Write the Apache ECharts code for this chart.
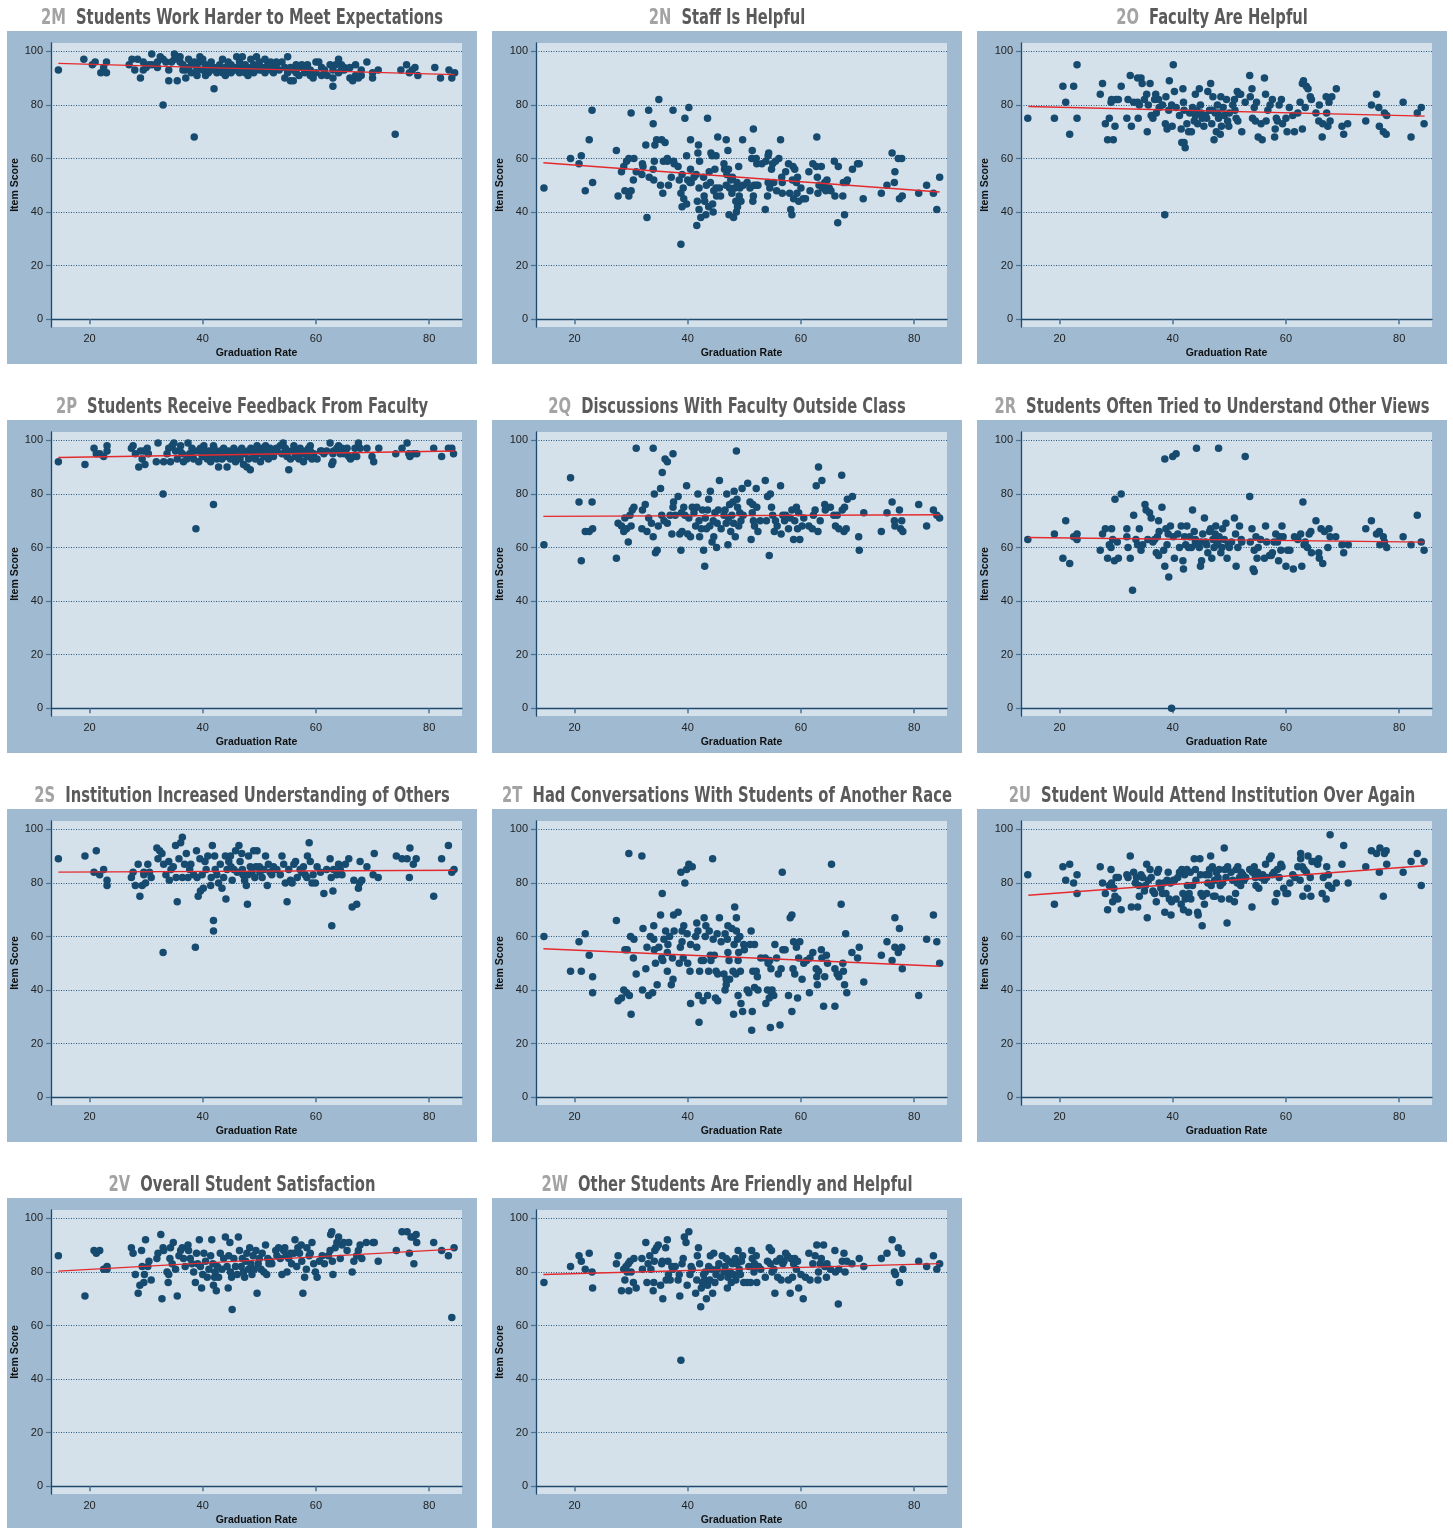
<!DOCTYPE html>
<html>
<head>
<meta charset="utf-8">
<script src="https://cdn.jsdelivr.net/npm/echarts@6/dist/echarts.min.js"></script>
<style>
  html, body { margin: 0; padding: 0; background: #fff; }
  #chart { width: 1453px; height: 1528px; }
</style>
</head>
<body>
<div id="chart"></div>
<script>
// panel labels
const panelCodes = ['2M', '2N', '2O', '2P', '2Q', '2R', '2S', '2T', '2U', '2V', '2W'];
const panelTitles = [
  'Students Work Harder to Meet Expectations',
  'Staff Is Helpful',
  'Faculty Are Helpful',
  'Students Receive Feedback From Faculty',
  'Discussions With Faculty Outside Class',
  'Students Often Tried to Understand Other Views',
  'Institution Increased Understanding of Others',
  'Had Conversations With Students of Another Race',
  'Student Would Attend Institution Over Again',
  'Overall Student Satisfaction',
  'Other Students Are Friendly and Helpful'
];
const xTicks = [20, 40, 60, 80];
const yTicks = [0, 20, 40, 60, 80, 100];

// [graduation rate, item score]
const pts2M = [[14.5,93],[19,97],[20.5,95],[21,96],[22,92],[22.5,94],[23,96],[23,92],[27,95],[27.5,97],[28,93],[28.5,97],[29,90],[29.5,93],[29.5,96],[30,94],[30.5,95],[31,99],[31,95],[32,96],[32,94],[32.5,98],[33,80],[33,97],[33.5,96],[34,93],[34,89],[34.5,96],[35,99],[35,97],[35.5,98],[35.5,89],[36,96],[36,98],[36.5,95],[37,93],[37,90],[37.5,97],[38,92],[38,95],[38.5,96],[38.5,68],[39,91],[39,94],[39.5,98],[39.5,96],[40,93],[40,97],[40.5,91],[40.5,95],[41,92],[41.5,96],[42,86],[42,94],[42.5,92],[43,95],[43,93],[43.5,97],[44,91],[44,94],[44.5,96],[45,92],[45,95],[45.5,93],[46,98],[46,94],[46.5,96],[47,93],[47,98],[47.5,95],[48,91],[48,94],[48.5,97],[49,92],[49,95],[49.5,98],[50,93],[50,96],[50.5,94],[51,97],[51,92],[51.5,95],[52,93],[52,96],[52.5,94],[53,95],[53.5,93],[54,96],[54.5,90],[54.5,94],[55,98],[55,92],[55.5,89],[56,93],[56,89],[56.5,95],[57,91],[57,94],[57.5,95],[58,92],[58.5,95],[59,91],[59,93],[59.5,90],[60,96],[60,92],[60.5,96],[61,94],[61,91],[62,91],[62.5,95],[63,87],[63,90],[63,93],[63.5,95],[64,97],[64,92],[64.5,95],[65,94],[65,93],[66,94],[66,90],[66.5,89],[67,95],[67,91],[67.5,90],[68,93],[68,91],[69,96],[70,90],[70,92],[71,93],[74,69],[75,93],[76,95],[76.5,92],[77,93],[77.5,94],[78,91],[81,94],[82,90],[83.5,93],[84,90],[84.5,92],[44.5,93],[46,93],[47.5,92],[49.5,94],[50.5,93],[48.5,93],[45.5,94],[41,94],[39,93],[36.5,93],[37.5,94],[41.5,93],[43.5,92],[46.5,92],[47,94],[49,93],[51,94],[52.5,92],[53,96],[55.5,94],[56.5,92],[58,94],[61.5,93],[64.5,93]];
const pts2N = [[14.6,49],[19.3,60],[20.8,58],[21.2,61],[21.9,48],[22.6,67],[23.1,78],[23.2,51],[27.4,63],[27.7,46],[28.3,55],[28.7,57],[28.9,48],[29.2,59],[29.6,46],[29.6,60],[30,48],[30,77],[30.4,52],[30.5,60],[30.9,55],[31.9,54],[32,58],[32.1,57],[32.6,65],[32.8,38],[33.1,78],[33.2,53],[33.9,56],[33.9,73],[34,52],[34.1,59],[34.2,65],[34.5,67],[34.9,82],[35.2,50],[35.4,67],[35.6,47],[35.7,59],[36,66],[36.4,60],[36.4,59],[36.6,50],[37.1,53],[37.4,78],[37.5,59],[37.6,58],[38.3,57],[38.5,52],[38.8,47],[38.8,28],[39,42],[39,54],[39.2,49],[39.3,45],[39.5,75],[39.8,43],[39.8,61],[40,52],[40.2,79],[40.4,51],[40.5,56],[40.5,67],[40.6,51],[41.1,53],[41.5,54],[41.6,35],[41.7,44],[41.8,62],[41.9,65],[42,49],[42,41],[42.1,59],[42.3,38],[42.8,53],[42.9,46],[43,44],[43.2,39],[43.3,50],[43.5,75],[43.7,42],[43.8,55],[44,51],[44.1,62],[44.3,61],[44.4,43],[44.5,40],[44.6,48],[44.8,56],[45,61],[45,49],[45.1,46],[45.3,68],[45.6,49],[45.8,46],[46.4,58],[46.5,56],[46.8,50],[46.8,67],[46.9,54],[47.1,63],[47.2,56],[47.3,39],[47.4,49],[47.6,52],[47.8,47],[47.9,53],[48.1,38],[48.3,49],[48.5,44],[48.6,40],[48.7,51],[48.8,42],[49,57],[49.1,46],[49.2,49],[49.4,44],[49.7,67],[49.8,50],[50.5,51],[51,49],[51.3,60],[51.4,63],[51.5,44],[51.6,71],[51.6,46],[51.7,50],[52.1,50],[52.1,60],[52.2,58],[52.4,50],[53.1,58],[53.7,41],[53.8,59],[54.1,46],[54.2,51],[54.2,61],[54.3,62],[54.5,49],[54.8,56],[55,58],[55.2,51],[55.5,59],[55.7,48],[56.1,60],[56.4,67],[56.6,53],[56.7,47],[56.7,51],[57.3,55],[57.8,58],[58,47],[58.2,41],[58.4,39],[58.5,52],[58.6,57],[58.7,45],[58.9,56],[59.2,51],[59.3,47],[59.4,53],[59.6,44],[60,49],[60.4,45],[60.8,45],[61.4,55],[61.6,48],[62.1,58],[62.7,57],[62.8,68],[62.9,53],[63,47],[63.2,50],[63.6,57],[63.8,49],[64.2,51],[64.4,48],[64.6,52],[65,49],[65.3,48],[65.9,59],[66,46],[66.5,36],[66.6,57],[67.4,46],[67.5,51],[67.7,39],[68,51],[68.2,52],[69.1,56],[70,58],[70.3,58],[71,45],[74.2,47],[75.2,50],[76.1,62],[76.5,51],[76.6,55],[77.2,60],[77.4,45],[77.8,60],[77.9,46],[80.8,47],[82.2,50],[83.4,47],[84,41],[84.5,53]];
const pts2O = [[14.4,75],[19.1,75],[20.6,87],[21.1,81],[21.8,69],[22.5,87],[23.1,95],[23.1,75],[27.2,84],[27.6,88],[28.1,73],[28.5,67],[28.8,75],[29.1,81],[29.2,82],[29.5,67],[29.8,72],[30,82],[30.4,82],[30.9,87],[31.9,75],[32.1,82],[32.5,91],[32.7,72],[33.1,81],[33.8,90],[33.8,81],[33.9,75],[34.1,80],[34.4,90],[34.6,88],[35,82],[35.4,84],[35.5,70],[35.7,80],[36,88],[36.2,76],[36.5,75],[36.8,82],[37,84],[37.1,77],[37.5,82],[37.6,79],[38.2,80],[38.6,39],[38.7,73],[38.8,83],[39,71],[39.3,78],[39.4,89],[39.8,80],[39.9,72],[40.1,95],[40.3,85],[40.6,79],[41.2,76],[41.5,71],[41.6,66],[41.8,86],[41.9,81],[42,66],[42.2,64],[42.5,73],[42.8,70],[43,77],[43.3,70],[43.5,79],[43.8,74],[44,84],[44.2,78],[44.4,73],[44.7,86],[44.9,80],[45.2,75],[45.5,72],[45.8,76],[46.2,85],[46.5,78],[46.7,88],[46.9,73],[47.1,83],[47.3,67],[47.5,77],[47.7,70],[47.9,80],[48.1,75],[48.4,69],[48.5,83],[48.6,72],[48.9,79],[49.1,76],[49.5,82],[49.7,74],[49.9,72],[50.6,80],[50.9,82],[51.2,75],[51.4,85],[51.5,74],[51.7,84],[52,84],[52.2,70],[52.8,81],[53.6,91],[53.7,83],[54,86],[54.1,75],[54.4,79],[54.6,74],[54.8,81],[55.1,68],[55.6,73],[55.8,67],[56.2,90],[56.4,84],[56.5,74],[56.8,78],[57.2,80],[57.6,82],[58,68],[58.1,71],[58.3,75],[58.5,74],[58.8,80],[59.2,82],[59.4,73],[60,75],[60.2,70],[60.6,79],[61.2,76],[61.5,70],[62.1,77],[62.5,81],[62.9,71],[62.9,88],[63.1,89],[63.4,79],[63.6,87],[63.9,86],[64.3,83],[64.5,82],[65.3,77],[65.8,74],[65.9,80],[66.4,68],[66.5,73],[67.1,83],[67.2,77],[67.4,72],[67.6,81],[67.8,74],[68.1,83],[68.9,86],[69.9,72],[70.2,69],[70.9,73],[74.1,74],[75.1,80],[76,84],[76.4,79],[76.5,72],[77.2,70],[77.4,77],[77.7,69],[77.8,76],[80.7,81],[82.1,68],[83.2,77],[83.9,79],[84.4,73],[45,77],[46,75],[47,78],[48,77],[50,77],[51,78],[44,76],[42,78]];
const pts2P = [[14.5,92],[19.2,91],[20.8,97],[21.2,95],[21.8,95],[22.5,94],[23.1,98],[23.1,96],[27.4,97],[27.7,98],[28.1,95],[28.7,90],[29,96],[29.3,93],[29.6,96],[29.8,91],[30.2,97],[30.4,95],[31.8,92],[32.1,99],[33,80],[33.1,92],[33.7,95],[34,97],[34.3,92],[34.6,98],[34.9,99],[35.2,96],[35.5,93],[36.1,98],[36.4,95],[36.6,92],[37.2,93],[37.4,99],[37.7,95],[38.1,97],[38.4,93],[38.8,67],[39,96],[39.3,92],[39.6,97],[39.9,94],[40.2,98],[40.5,95],[40.8,93],[41.1,96],[41.4,92],[41.6,94],[41.9,76],[41.9,98],[42.2,95],[42.5,93],[42.8,90],[43.1,96],[43.4,93],[43.7,97],[44,94],[44.3,90],[44.6,96],[44.9,93],[45.2,95],[45.5,97],[45.8,92],[46.1,94],[46.4,96],[46.6,93],[46.9,97],[47.2,91],[47.5,95],[47.8,90],[48.1,93],[48.4,89],[48.5,97],[48.9,95],[49.3,93],[49.6,98],[49.9,95],[50.2,92],[50.5,97],[50.8,94],[51.1,98],[51.4,96],[51.6,93],[51.9,97],[52.2,95],[52.5,94],[53.1,96],[53.7,98],[54,95],[54.2,99],[54.6,97],[54.9,94],[55.2,89],[55.5,93],[55.8,96],[56.1,98],[56.4,94],[56.7,96],[57,93],[57.2,97],[57.5,95],[57.8,92],[58.1,96],[58.4,94],[58.7,97],[59,98],[59.3,93],[59.6,95],[60.2,93],[60.8,96],[61.4,95],[61.9,96],[62.5,99],[62.8,91],[63,92],[63.1,96],[63.7,97],[64,98],[64.3,95],[64.6,97],[65.2,96],[65.5,97],[65.8,94],[66.1,93],[66.7,94],[66.9,97],[67.2,94],[67.5,99],[67.8,97],[69,97],[69.9,94],[70.2,92],[71.1,97],[74.1,95],[75.2,97],[76.1,99],[76.4,95],[76.6,94],[77.2,95],[77.8,95],[80.8,97],[82.2,94],[83.4,97],[84,97],[84.3,95],[45,95],[47,95],[50,96],[52,95],[48,96],[43,95],[36,96],[38,95],[40,96],[42,97],[44,96],[46,95],[49,96],[51,95],[53,97],[55,96],[57,95],[59,96],[61,96],[63,95],[65,95]];
const pts2Q = [[14.6,61],[19.3,86],[20.8,77],[21.2,55],[21.9,66],[22.6,66],[23.1,77],[23.2,67],[27.4,56],[27.7,69],[28.3,68],[28.7,66],[28.9,71],[29.2,67],[29.5,62],[29.8,72],[30,68],[30.2,74],[30.5,75],[30.9,97],[31.9,67],[32,74],[32.5,76],[32.8,66],[33.1,71],[33.6,69],[33.9,97],[33.9,64],[34.1,80],[34.3,58],[34.6,59],[34.8,68],[35.2,82],[35.4,72],[35.5,88],[35.8,70],[36,93],[36.4,92],[36.4,69],[36.9,72],[37.2,65],[37.4,95],[37.4,75],[37.5,77],[37.8,72],[38.3,79],[38.6,65],[38.8,59],[38.9,73],[39,66],[39.3,75],[39.5,72],[39.8,83],[40,65],[40.2,71],[40.5,64],[40.8,75],[41.1,73],[41.4,68],[41.6,75],[41.8,80],[42,70],[42.1,64],[42.4,67],[42.6,74],[42.8,59],[43,53],[43.1,71],[43.3,67],[43.5,74],[43.7,78],[43.9,68],[44,81],[44.3,62],[44.5,70],[44.6,64],[44.8,73],[45.1,60],[45.2,69],[45.4,74],[45.6,85],[45.9,67],[46.4,72],[46.6,74],[46.8,69],[46.9,80],[47.1,61],[47.2,71],[47.4,76],[47.6,66],[47.8,72],[48,77],[48.1,69],[48.2,81],[48.4,64],[48.6,96],[48.7,78],[48.8,75],[49,68],[49.2,73],[49.4,70],[49.6,82],[49.8,72],[50.6,84],[51,77],[51.2,63],[51.4,73],[51.5,76],[51.6,70],[51.8,68],[52.1,82],[52.2,75],[52.4,66],[52.8,70],[53.7,85],[53.9,70],[54.1,79],[54.4,57],[54.6,80],[54.8,75],[55,72],[55.3,66],[55.5,70],[55.8,68],[56.4,83],[56.5,65],[56.8,72],[57.1,70],[57.3,72],[57.8,67],[58.1,71],[58.4,74],[58.7,63],[58.9,70],[59.2,75],[59.4,67],[59.6,73],[59.8,63],[60.2,68],[60.5,71],[61.4,68],[62,67],[62.2,72],[62.5,74],[62.7,83],[63,66],[63.1,90],[63.4,70],[63.7,85],[64.2,76],[64.3,74],[65.2,75],[65.8,72],[66.1,68],[66.4,72],[66.7,67],[67.2,87],[67.3,74],[67.7,75],[67.6,66],[68,67],[68.2,78],[69.1,79],[70.2,64],[70.3,59],[71.1,73],[74.2,66],[75.2,73],[76.1,77],[76.5,70],[76.6,68],[77.4,74],[77.6,67],[77.8,70],[78,66],[80.8,76],[82.2,68],[83.4,74],[84,72],[84.5,71]];
const pts2R = [[14.4,63],[19.1,65],[20.6,56],[21.1,70],[21.8,54],[22.5,64],[23.1,65],[23.1,63],[27.2,59],[27.6,65],[28.1,67],[28.5,56],[28.8,61],[29.1,60],[29.2,67],[29.4,63],[29.8,78],[29.7,55],[30.2,62],[30.4,56],[30.9,80],[31.9,67],[31.9,64],[32.1,60],[32.5,56],[32.9,44],[33.1,72],[33.5,63],[33.8,61],[34.1,67],[34.4,59],[34.7,61],[35.1,76],[35.3,74],[35.6,63],[35.9,73],[36.2,71],[36.5,62],[36.8,63],[37.1,58],[37.3,64],[37.5,57],[37.5,70],[37.6,66],[38.1,75],[38.4,59],[38.6,93],[38.6,53],[38.8,67],[39,61],[39.2,65],[39.3,49],[39.6,68],[40,94],[40.1,64],[40.3,56],[40.6,95],[40.9,65],[41.2,60],[41.5,68],[41.8,55],[41.9,52],[42.1,64],[42.3,61],[42.5,68],[42.8,60],[43,64],[43.3,60],[43.5,74],[43.8,66],[44,62],[44.2,97],[44.4,61],[44.7,60],[44.9,53],[45.1,55],[45.3,65],[45.6,71],[45.8,62],[46.2,58],[46.5,66],[46.7,67],[46.9,56],[47.1,63],[47.3,60],[47.5,65],[47.6,68],[47.8,61],[48.1,97],[48.2,64],[48.5,58],[48.7,60],[48.8,67],[49.1,63],[49.4,69],[49.6,56],[49.8,61],[50.4,62],[50.9,71],[51.1,65],[51.2,53],[51.5,60],[51.8,68],[52.1,63],[52.2,62],[52.8,94],[53.6,79],[53.7,62],[54,67],[54.2,52],[54.4,51],[54.4,59],[54.7,64],[54.9,56],[55.1,60],[55.5,63],[56.2,56],[56.4,68],[56.6,62],[57.1,57],[57.4,57],[57.6,58],[57.9,62],[58.2,65],[58.5,62],[58.7,55],[58.9,64],[59.1,59],[59.3,68],[59.5,64],[60,53],[60.3,59],[60.7,59],[61.3,52],[61.5,64],[62.1,63],[62.6,65],[62.8,53],[63,77],[63.2,61],[63.4,62],[63.8,60],[64.1,65],[64.4,66],[64.5,58],[65.3,70],[65.8,58],[65.9,56],[66.2,67],[66.5,54],[66.8,66],[67.4,60],[67.6,67],[67.8,64],[68.8,64],[69.9,61],[70.2,58],[71,61],[74.1,67],[75.1,70],[76,65],[76.5,66],[76.6,61],[77.2,64],[77.4,62],[77.8,60],[80.7,64],[82.1,61],[83.2,72],[83.9,62],[84.4,59],[39.8,0],[45,62],[46,61],[48,62],[50,60],[44,63]];
const pts2S = [[14.5,89],[19.2,90],[20.8,84],[21.2,92],[21.8,83],[22.5,85],[23.1,81],[23.1,79],[27.4,82],[27.7,84],[28.1,79],[28.6,87],[28.9,75],[29.3,79],[29.6,84],[29.6,83],[29.9,80],[30.3,87],[30.6,84],[30.9,82],[31.9,93],[32.1,89],[32.4,92],[32.8,91],[33,54],[33.1,87],[33.5,83],[34,88],[34.1,81],[34.4,85],[34.8,86],[35.2,94],[35.3,82],[35.5,73],[35.8,89],[36.1,95],[36.4,97],[36.4,82],[36.8,87],[37.1,91],[37.4,82],[37.7,85],[37.9,87],[38.4,83],[38.7,56],[38.9,92],[39,82],[39.2,75],[39.5,89],[39.6,77],[39.9,83],[40.1,78],[40.4,88],[40.6,85],[40.9,90],[41.4,79],[41.5,82],[41.7,94],[41.9,66],[41.9,62],[42.1,90],[42.2,85],[42.5,83],[42.8,80],[43.1,87],[43.4,78],[43.7,82],[44,90],[44.1,74],[44.3,85],[44.6,88],[44.9,90],[45.2,81],[45.5,85],[45.8,92],[46.1,84],[46.4,94],[46.6,88],[46.9,91],[47.1,83],[47.4,81],[47.7,79],[47.9,72],[48.1,90],[48.4,86],[48.7,84],[49,92],[49.2,82],[49.4,86],[49.6,92],[50.1,84],[50.5,82],[50.8,85],[51.1,90],[51.4,79],[51.6,87],[51.9,84],[52.2,83],[52.5,86],[53.1,85],[53.7,83],[54,90],[54.3,87],[54.6,80],[54.9,73],[55.2,85],[55.5,81],[55.8,80],[56.1,87],[56.4,88],[56.7,82],[57.2,85],[57.5,84],[57.8,86],[58.1,83],[58.4,82],[58.5,90],[58.8,95],[59,88],[59.3,80],[59.5,83],[59.9,80],[60.2,86],[60.8,84],[61.4,76],[61.9,85],[62.5,89],[62.7,82],[62.8,64],[63,77],[63.1,85],[63.7,83],[64,87],[64.3,85],[64.6,83],[65.2,87],[65.8,89],[66.4,71],[66.7,81],[67.2,72],[67.5,78],[67.7,80],[67.8,88],[68.1,81],[69,86],[70.1,83],[70.3,91],[71,82],[74.2,90],[75.2,89],[76.1,89],[76.5,82],[76.6,93],[77.2,87],[77.7,89],[80.8,75],[82.2,89],[83.4,94],[84,84],[84.4,85],[45,86],[47,85],[50,86],[52,84],[48,83]];
const pts2T = [[14.6,60],[19.3,47],[20.8,58],[21.2,47],[21.9,61],[22.6,53],[23.2,45],[23.2,39],[27.4,66],[27.7,36],[28.3,37],[28.7,40],[28.9,55],[29.2,39],[29.3,55],[29.6,91],[29.7,38],[29.9,60],[30,31],[30.4,52],[30.5,59],[30.9,46],[31.9,90],[32,40],[32.1,63],[32.6,48],[32.8,56],[33.1,38],[33.4,60],[33.8,39],[34,64],[34,59],[34.1,55],[34.3,50],[34.6,42],[34.9,56],[35.2,68],[35.4,52],[35.5,76],[35.6,51],[35.8,59],[36.1,62],[36.4,47],[36.4,54],[36.5,57],[36.8,60],[37.1,42],[37.3,52],[37.4,44],[37.5,68],[37.6,62],[38.3,69],[38.5,50],[38.7,56],[38.8,84],[39,58],[39,62],[39.2,52],[39.3,64],[39.5,80],[39.8,85],[39.9,61],[40,50],[40.2,87],[40.4,47],[40.5,57],[40.8,86],[40.5,35],[41.4,60],[41.6,65],[41.6,56],[41.8,62],[41.9,38],[42,28],[42.1,47],[42.4,51],[42.7,36],[42.8,51],[42.9,67],[43.1,60],[43.2,64],[43.5,38],[43.7,47],[43.8,62],[44,53],[44.1,51],[44.4,89],[44.5,59],[44.7,53],[44.9,37],[45,47],[45.2,61],[45.3,36],[45.3,46],[45.6,67],[45.9,58],[46.4,46],[46.6,61],[46.6,40],[46.8,42],[46.8,44],[47,59],[47.1,54],[47.1,64],[47.3,51],[47.4,44],[47.8,63],[48,47],[48.1,31],[48.2,57],[48.3,71],[48.5,46],[48.6,62],[48.6,67],[48.8,59],[48.9,38],[48.9,51],[49,54],[49.2,60],[49.3,47],[49.4,35],[49.7,32],[49.9,57],[50,55],[50.5,40],[50.8,39],[51,57],[51.2,62],[51.3,25],[51.4,32],[51.5,47],[51.8,57],[51.8,41],[52.1,47],[52.3,45],[52.4,40],[52.9,52],[53.7,52],[53.8,35],[54.1,40],[54.2,50],[54.4,37],[54.5,51],[54.6,26],[54.7,48],[54.8,39],[54.9,40],[55.2,38],[55.4,57],[55.7,52],[56,46],[56.3,27],[56.5,48],[56.7,84],[56.8,55],[57.2,55],[57.8,38],[58.1,67],[58.4,68],[58.4,32],[58.6,48],[58.7,58],[58.9,46],[59.2,56],[59.4,37],[59.6,52],[59.8,58],[60.2,44],[60.5,50],[61,51],[61.5,39],[61.6,52],[62.1,54],[62.7,48],[62.8,45],[62.9,42],[63.1,47],[63.6,55],[63.7,52],[64,34],[64.2,45],[64.5,53],[64.7,50],[65.4,87],[66,34],[66,48],[66.4,46],[66.7,45],[67.1,72],[67.4,50],[67.5,47],[67.7,42],[67.9,61],[68.1,39],[69,54],[70,52],[70.3,56],[71.1,43],[74.2,53],[75.2,58],[76.1,51],[76.6,67],[76.6,56],[77.2,54],[77.4,63],[77.8,56],[77.9,48],[80.8,38],[82.2,59],[83.4,68],[84,58],[84.5,50]];
const pts2U = [[14.4,83],[19.1,72],[20.6,86],[21.1,81],[21.8,87],[22.5,80],[23.1,83],[23.1,76],[27.2,86],[27.6,80],[28.1,76],[28.5,70],[28.8,79],[29.1,85],[29.2,80],[29.4,73],[29.6,78],[29.8,75],[30,82],[30.3,74],[30.4,82],[30.9,70],[31.9,83],[32.1,82],[32.5,90],[32.7,71],[33.1,84],[33.4,80],[33.6,82],[33.8,71],[34,79],[34.1,75],[34.4,83],[34.7,82],[35,77],[35.2,79],[35.4,87],[35.5,67],[35.7,81],[36,85],[36.2,82],[36.5,77],[36.8,76],[37.1,73],[37.3,84],[37.5,85],[37.6,80],[37.9,78],[38.2,76],[38.4,80],[38.6,69],[38.8,76],[39,81],[39.2,84],[39.4,74],[39.6,80],[39.7,68],[39.8,73],[40.1,81],[40.3,81],[40.6,74],[40.9,82],[41.2,84],[41.5,72],[41.6,85],[41.8,76],[41.9,70],[42.1,83],[42.2,74],[42.5,85],[42.6,79],[42.8,69],[42.9,76],[43.1,84],[43.2,74],[43.5,79],[43.8,89],[44,85],[44.1,81],[44.4,69],[44.5,68],[44.8,89],[44.9,83],[45,76],[45.2,64],[45.3,75],[45.6,72],[45.8,83],[46,76],[46.2,80],[46.4,83],[46.5,85],[46.7,90],[46.8,79],[47,86],[47.2,75],[47.4,81],[47.5,75],[47.7,84],[48,82],[48.2,85],[48.4,79],[48.6,74],[48.8,80],[49.1,93],[49.2,85],[49.4,82],[49.6,65],[49.7,86],[50,74],[50.3,84],[50.6,81],[50.9,73],[51.1,76],[51.2,85],[51.4,80],[51.5,86],[51.8,82],[52,79],[52.1,84],[52.4,83],[52.6,81],[52.9,82],[53.6,85],[54,71],[54.1,84],[54.4,86],[54.6,82],[54.7,79],[55,84],[55.2,78],[55.6,82],[55.9,83],[56.2,81],[56.4,87],[56.6,82],[57.1,89],[57.4,90],[57.6,83],[57.9,84],[58.1,73],[58.4,76],[58.5,85],[58.8,82],[59.1,87],[59.3,86],[59.6,78],[60,76],[60.3,76],[60.7,80],[61.2,83],[61.6,82],[62.1,86],[62.5,81],[62.6,91],[62.6,89],[62.9,86],[63,75],[63.2,85],[63.6,84],[63.8,78],[63.9,90],[64.3,82],[64.4,75],[64.6,88],[65,88],[65.6,87],[65.8,89],[66.4,76],[66.6,82],[67.1,74],[67.2,86],[67.5,83],[67.5,79],[67.8,98],[68.1,78],[68.9,80],[69.9,87],[70.2,94],[71,80],[74.1,86],[75.1,92],[76,91],[76.5,84],[76.6,93],[77.2,75],[77.4,91],[77.7,92],[77.8,87],[80.7,84],[82.1,88],[83.2,91],[83.9,79],[84.4,88]];
const pts2V = [[14.5,86],[19.2,71],[20.8,88],[21.2,87],[21.8,88],[22.5,81],[23.1,82],[23.1,81],[27.4,89],[27.7,87],[28.1,79],[28.6,72],[28.9,75],[29.2,88],[29.3,82],[29.6,76],[29.7,79],[29.9,92],[30.3,82],[30.5,84],[30.9,77],[31.9,85],[32.1,87],[32.6,94],[32.8,70],[33,89],[33.1,88],[33.7,80],[33.9,76],[34,79],[34.2,85],[34.3,89],[34.6,83],[34.8,91],[35.2,81],[35.5,71],[35.8,86],[36.1,88],[36.4,89],[36.6,85],[36.9,82],[37.4,90],[37.5,88],[37.8,85],[38.1,83],[38.4,80],[38.7,76],[38.9,87],[39.1,83],[39.4,92],[39.6,82],[39.8,74],[40,79],[40.2,87],[40.5,84],[40.8,78],[41.1,81],[41.4,86],[41.6,92],[41.8,83],[41.9,75],[42.1,78],[42.2,80],[42.4,73],[42.6,82],[42.8,78],[43.1,87],[43.4,81],[43.7,85],[44,93],[44.3,82],[44.5,74],[44.6,86],[44.8,91],[44.9,80],[45.1,78],[45.2,66],[45.5,85],[45.8,82],[46.1,79],[46.3,93],[46.5,88],[46.8,82],[47,85],[47.2,80],[47.4,78],[47.6,84],[47.8,87],[48.1,81],[48.3,89],[48.5,83],[48.7,79],[48.9,86],[49.1,81],[49.4,88],[49.6,72],[49.8,83],[50,85],[50.3,81],[50.5,87],[50.8,80],[51.1,90],[51.3,79],[51.5,85],[51.7,83],[52,84],[52.2,83],[52.9,88],[53.1,86],[53.4,89],[53.7,85],[54,79],[54.3,88],[54.5,89],[54.7,86],[54.9,80],[55.2,85],[55.5,87],[55.7,83],[56.1,87],[56.3,92],[56.6,82],[56.8,89],[57.1,87],[57.4,90],[57.5,84],[57.7,72],[58,78],[58.3,81],[58.4,89],[58.8,86],[59,87],[59.3,91],[59.6,83],[59.9,80],[60.2,78],[60.6,84],[61.1,86],[61.5,83],[62.2,86],[62.5,88],[62.6,94],[62.8,95],[62.9,84],[63,79],[63.4,89],[63.7,91],[64,93],[64.3,85],[64.6,90],[64.9,91],[65.5,88],[65.8,91],[66.4,80],[66.7,84],[67.2,86],[67.5,88],[67.8,90],[68.1,85],[68.9,91],[70.1,91],[70.3,91],[71,84],[74.2,88],[75.2,95],[76.1,95],[76.5,87],[76.8,93],[77.2,93],[77.3,83],[77.7,94],[77.8,91],[80.8,91],[82.2,88],[83.4,86],[84,63],[84.4,89]];
const pts2W = [[14.6,76],[19.3,82],[20.8,86],[21.2,84],[21.9,81],[22.6,87],[23.1,80],[23.2,74],[27.4,83],[27.7,86],[28.3,73],[28.7,81],[28.9,77],[29.1,82],[29.3,80],[29.5,83],[29.6,73],[29.8,84],[30,80],[30.4,76],[30.5,85],[30.9,74],[31.9,85],[32,81],[32.6,91],[32.8,76],[33,83],[33.3,86],[33.5,81],[33.9,73],[34,76],[34.1,84],[34.2,88],[34.5,89],[34.8,90],[35.2,75],[35.4,83],[35.5,84],[35.6,70],[36.1,89],[36.2,77],[36.4,92],[36.5,84],[36.6,79],[36.9,77],[37.2,82],[37.4,81],[37.8,82],[38.3,77],[38.5,79],[38.6,71],[38.8,47],[39,83],[39.2,85],[39.4,93],[39.7,91],[39.9,75],[40.2,95],[40.4,79],[40.6,82],[40.8,81],[41.4,72],[41.6,77],[41.7,86],[41.9,89],[42.1,83],[42.3,67],[42.4,74],[42.6,76],[42.8,79],[43,77],[43.1,80],[43.3,70],[43.5,75],[43.7,82],[43.9,77],[44,86],[44.2,81],[44.4,72],[44.6,87],[44.8,76],[45,79],[45.2,81],[45.5,83],[45.8,78],[46.1,86],[46.4,80],[46.6,82],[46.8,85],[47,74],[47.1,78],[47.3,84],[47.5,80],[47.7,76],[47.9,83],[48.1,79],[48.4,85],[48.5,77],[48.7,83],[48.9,88],[49.1,81],[49.3,79],[49.5,84],[49.7,86],[49.9,76],[50.5,76],[50.8,82],[51.1,76],[51.3,88],[51.4,85],[51.6,82],[51.7,80],[51.8,83],[52.1,86],[52.2,76],[52.5,82],[52.9,81],[53.7,78],[54.1,84],[54.4,89],[54.6,83],[54.8,88],[54.9,80],[55.2,81],[55.4,72],[55.7,84],[55.9,78],[56.3,85],[56.5,77],[56.8,83],[57,84],[57.3,87],[57.6,86],[57.8,77],[58.1,72],[58.2,85],[58.5,78],[58.7,83],[58.9,85],[59.2,81],[59.4,84],[59.6,74],[60,79],[60.4,70],[60.8,78],[61.4,87],[61.6,77],[62.1,83],[62.5,86],[62.8,90],[63,77],[63.1,80],[63.4,83],[63.6,85],[64,90],[64.2,82],[64.5,78],[64.6,83],[65.2,81],[66,88],[66.1,80],[66.6,68],[66.7,81],[67.3,84],[67.6,87],[67.8,80],[68.1,84],[69,83],[70.3,85],[71.1,82],[74.2,85],[75.2,87],[76.1,92],[76.5,80],[76.7,79],[77.2,89],[77.4,76],[77.8,87],[78,81],[80.8,84],[82.2,82],[83.4,86],[84,81],[84.5,83]];

// fitted lines as printed on the chart: [start, end]
const trend2M = [[14.5, 95.5], [84.5, 91.3]];
const trend2N = [[14.5, 58.4], [84.5, 47.5]];
const trend2O = [[14.5, 79.4], [84.5, 75.8]];
const trend2P = [[14.5, 93.6], [84.5, 96.0]];
const trend2Q = [[14.5, 71.6], [84.5, 72.2]];
const trend2R = [[14.5, 63.7], [84.5, 62.0]];
const trend2S = [[14.5, 84.0], [84.5, 84.7]];
const trend2T = [[14.5, 55.4], [84.5, 48.9]];
const trend2U = [[14.5, 75.4], [84.5, 86.4]];
const trend2V = [[14.5, 80.3], [84.5, 88.5]];
const trend2W = [[14.5, 79.0], [84.5, 83.1]];

const panelPoints = [pts2M, pts2N, pts2O, pts2P, pts2Q, pts2R, pts2S, pts2T, pts2U, pts2V, pts2W];
const panelTrends = [trend2M, trend2N, trend2O, trend2P, trend2Q, trend2R, trend2S, trend2T, trend2U, trend2V, trend2W];

const colX = [7, 492, 977];
const rowY = [31, 420, 809, 1198];
const boxW = 470, boxH = 333;
const titleFont = '"DejaVu Sans Condensed", "DejaVu Sans", sans-serif';
const labelFont = '"Liberation Sans", Arial, sans-serif';
const axisColor = '#1d4a6e';

const grids = [], xAxes = [], yAxes = [], series = [], graphics = [];

panelCodes.forEach((code, i) => {
  const bx = colX[i % 3], by = rowY[Math.floor(i / 3)];
  graphics.push({
    type: 'rect', z: -10, silent: true,
    shape: { x: bx, y: by, width: boxW, height: Math.min(boxH, 1528 - by) },
    style: { fill: '#9fbad1' }
  });
  // title squeezed horizontally to mimic a condensed face
  graphics.push({
    type: 'text', silent: true, z: 10,
    x: bx + boxW / 2, y: by - 12, scaleX: 0.78,
    style: {
      text: '{a|' + code + '}{b|' + panelTitles[i] + '}',
      align: 'center', verticalAlign: 'middle',
      rich: {
        a: { fontFamily: titleFont, fontWeight: 'bold', fontSize: 21, fill: '#a3a3a3', padding: [0, 13, 0, 0] },
        b: { fontFamily: titleFont, fontWeight: 'bold', fontSize: 21, fill: '#5a5a5a' }
      }
    }
  });
  grids.push({
    left: bx + 44, top: by + 12, width: 411, height: 284,
    show: true, backgroundColor: '#d4e1ea', borderWidth: 0,
    outerBoundsMode: 'none'
  });
  xAxes.push({
    type: 'value', gridIndex: i, min: 13.2, max: 85.8,
    name: 'Graduation Rate', nameLocation: 'middle', nameGap: 21,
    nameTextStyle: { fontFamily: labelFont, fontWeight: 'bold', fontSize: 10.5, color: '#111' },
    axisLine: { show: true, lineStyle: { color: axisColor, width: 1.3 } },
    axisTick: { show: true, length: 5, customValues: xTicks, lineStyle: { color: '#4a7396', width: 1.5 } },
    axisLabel: { customValues: xTicks, margin: 6, fontFamily: labelFont, fontSize: 11, color: '#222' },
    splitLine: { show: false }
  });
  yAxes.push({
    type: 'value', gridIndex: i, min: -2.9, max: 103.1,
    name: 'Item Score', nameLocation: 'middle', nameGap: 18, nameRotate: 90,
    nameTextStyle: { fontFamily: labelFont, fontWeight: 'bold', fontSize: 10.5, color: '#111' },
    axisLine: { show: true, lineStyle: { color: axisColor, width: 1.3 } },
    axisTick: { show: true, length: 5, customValues: yTicks, lineStyle: { color: '#4a7396', width: 1.2 } },
    axisLabel: { customValues: yTicks, margin: 8, fontFamily: labelFont, fontSize: 11, color: '#222' },
    splitLine: { show: true, lineStyle: { color: '#2a5a82', type: [1, 1.5], width: 1 } }
  });
  series.push({
    type: 'scatter', xAxisIndex: i, yAxisIndex: i, data: panelPoints[i],
    symbolSize: 7.5, itemStyle: { color: '#164a6f', opacity: 1 }, z: 2
  });
  series.push({
    type: 'line', xAxisIndex: i, yAxisIndex: i, data: panelTrends[i],
    symbol: 'none', lineStyle: { color: '#e52a2f', width: 1.4 }, z: 3
  });
});

const chart = echarts.init(document.getElementById('chart'), null, { renderer: 'canvas' });
chart.setOption({
  animation: false,
  backgroundColor: '#ffffff',
  graphic: { elements: graphics },
  grid: grids,
  xAxis: xAxes,
  yAxis: yAxes,
  series: series
});
</script>
</body>
</html>
